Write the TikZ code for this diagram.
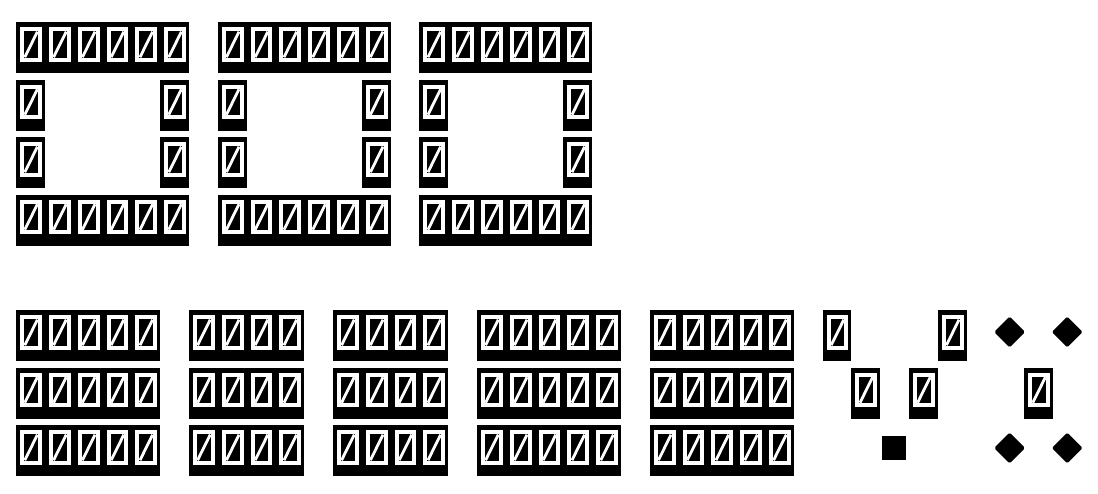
\documentclass[tikz,border=0pt]{standalone}
\usetikzlibrary{shapes.geometric}

\begin{document}
\begin{tikzpicture}[
    x=1pt, y=-1pt,
    tofu/.style={rectangle, fill=black, inner sep=0pt, minimum width=28.8pt, minimum height=51pt, anchor=north west,
        path picture={
            \draw[white, line width=4pt] ([shift={(6pt,-7pt)}]path picture bounding box.north west) rectangle ([shift={(-5pt,13.5pt)}]path picture bounding box.south east);
            \draw[white, line width=2.8pt] ([shift={(8.6pt,16pt)}]path picture bounding box.south west) -- ([shift={(-7.6pt,-9.5pt)}]path picture bounding box.north east);
        }},
    gem/.style={diamond, fill=black, inner sep=0pt, minimum size=31pt, rounded corners=1.5pt},
    blob/.style={rectangle, fill=black, inner sep=0pt, minimum size=24pt}
]

\useasboundingbox (0,0) rectangle (1098,493);

% Frames
\foreach \g in {0,7,14} {
    \foreach \c in {0,...,5} {
        \node[tofu] (top-\g-\c) at (16+28.8*\g+28.8*\c, 22) {};
        \node[tofu] (bot-\g-\c) at (16+28.8*\g+28.8*\c, 194.5) {};
    }
    \foreach \r/\y in {1/79.5, 2/137} {
        \node[tofu] (left-\g-\r) at (16+28.8*\g, \y) {};
        \node[tofu] (right-\g-\r) at (16+28.8*\g+144, \y) {};
    }
}

% Blocks
\foreach \y [count=\r] in {310, 367.5, 425} {
    \foreach \a/\b in {0/4, 6/9, 11/14, 16/20, 22/26} {
        \foreach \c in {\a,...,\b}
            \node[tofu] (row-\r-\c) at (16+28.8*\c, \y) {};
    }
}

% Loose glyphs
\foreach \c/\y [count=\i] in {28/310, 32/310, 29/367.5, 31/367.5, 35/367.5}
    \node[tofu] (loose-\i) at (16+28.8*\c, \y) {};

% Diamonds and square
\foreach \c/\y [count=\i] in {34/332, 36/332, 34/448, 36/448}
    \node[gem] (gem-\i) at (16+28.8*\c+14.4, \y) {};
\node[blob] (square) at (16+28.8*30+14.4, 448) {};

\end{tikzpicture}
\end{document}
